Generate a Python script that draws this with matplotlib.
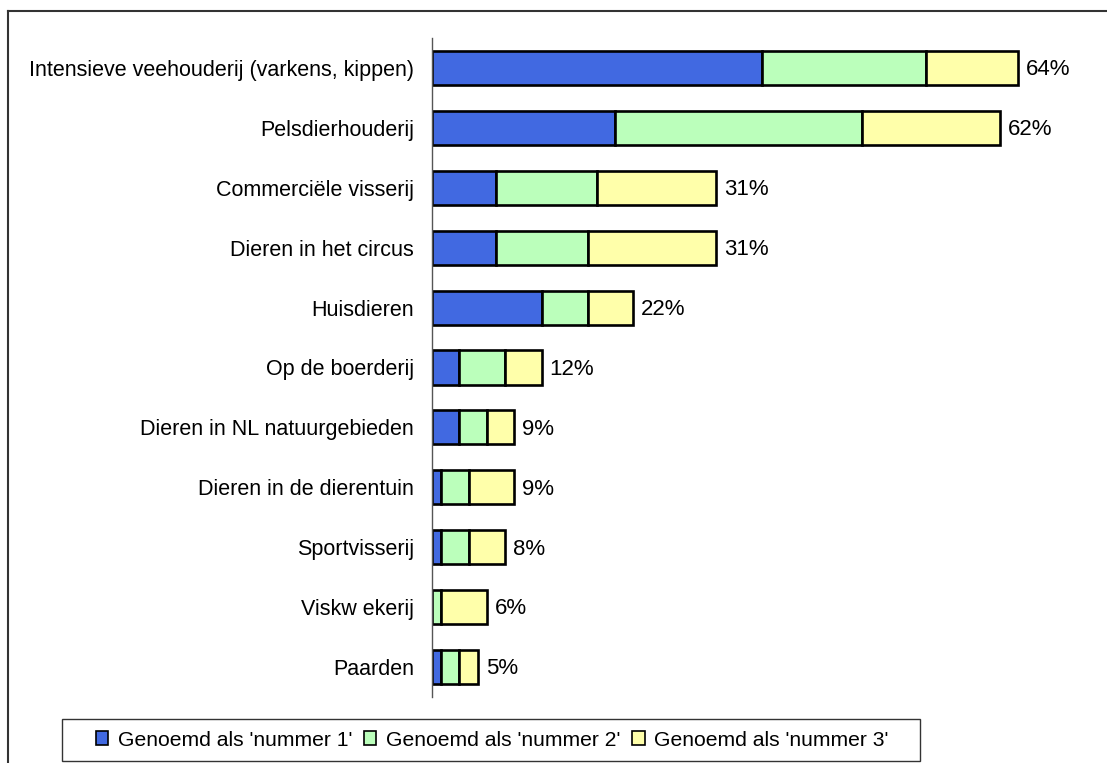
import numpy as np
import matplotlib.pyplot as plt
from matplotlib.patches import Patch, Rectangle
from matplotlib.lines import Line2D

plt.rcParams['font.family'] = ['Liberation Sans', 'DejaVu Sans']

categories = ["Intensieve veehouderij (varkens, kippen)", "Pelsdierhouderij",
              "Commerciële visserij", "Dieren in het circus", "Huisdieren",
              "Op de boerderij", "Dieren in NL natuurgebieden",
              "Dieren in de dierentuin", "Sportvisserij", "Viskw ekerij", "Paarden"]
nummer1 = [36, 20, 7, 7, 12, 3, 3, 1, 1, 0, 1]
nummer2 = [18, 27, 11, 10, 5, 5, 3, 3, 3, 1, 2]
nummer3 = [10, 15, 13, 14, 5, 4, 3, 5, 4, 5, 2]
totals = ["64%", "62%", "31%", "31%", "22%", "12%", "9%", "9%", "8%", "6%", "5%"]
series_names = ["Genoemd als 'nummer 1'", "Genoemd als 'nummer 2'", "Genoemd als 'nummer 3'"]
colors = ["#4169E1", "#BBFFBB", "#FFFFAA"]

W, H = 1107, 763
fig = plt.figure(figsize=(W / 100, H / 100), dpi=100)
# axes: x from 432 px, y from 38 to 697 px
ax = fig.add_axes([432 / W, 1 - 697 / H, (1073 - 432) / W, (697 - 38) / H])

y = np.arange(len(categories))
left = np.zeros(len(categories))
for vals, col, name in zip([nummer1, nummer2, nummer3], colors, series_names):
    vals = np.array(vals, dtype=float)
    ax.barh(y, vals, left=left, height=0.57, color=col, edgecolor='black',
            linewidth=1.9, label=name)
    left += vals

for yi, tot, lab in zip(y, left, totals):
    ax.text(tot + 0.85, yi + 0.03, lab, va='center', ha='left', fontsize=16)

ax.set_xlim(0, 70)
ax.set_ylim(len(categories) - 0.5, -0.5)
ax.set_yticks(y)
ax.set_yticklabels(categories, fontsize=15.5)
ax.tick_params(axis='y', length=0, pad=13)
ax.set_xticks([])
for s in ['top', 'right', 'bottom']:
    ax.spines[s].set_visible(False)
ax.spines['left'].set_color('#555555')
ax.spines['left'].set_linewidth(1.0)

# outer chart frame (left and top edges visible)
fig.add_artist(Line2D([8 / W, 8 / W], [0, 1 - 11 / H], color='#333333', lw=1.5,
                      transform=fig.transFigure))
fig.add_artist(Line2D([8 / W, 1], [1 - 11 / H, 1 - 11 / H], color='#333333', lw=1.5,
                      transform=fig.transFigure))

# legend box
fig.add_artist(Rectangle((62 / W, 1 - 761 / H), (920 - 62) / W, 42 / H,
                         transform=fig.transFigure, facecolor='white',
                         edgecolor='#333333', linewidth=1.0))
handles = [Patch(facecolor=c, edgecolor='black', linewidth=1.2) for c in colors]
leg = fig.legend(handles, series_names, loc='center',
                 bbox_to_anchor=(492 / W, 1 - 740 / H), ncol=3, fontsize=15.2,
                 frameon=False, handlelength=0.6, handleheight=0.6,
                 handletextpad=0.45, columnspacing=0.55, borderpad=0,
                 borderaxespad=0)

fig.savefig('out.png', dpi=100)
